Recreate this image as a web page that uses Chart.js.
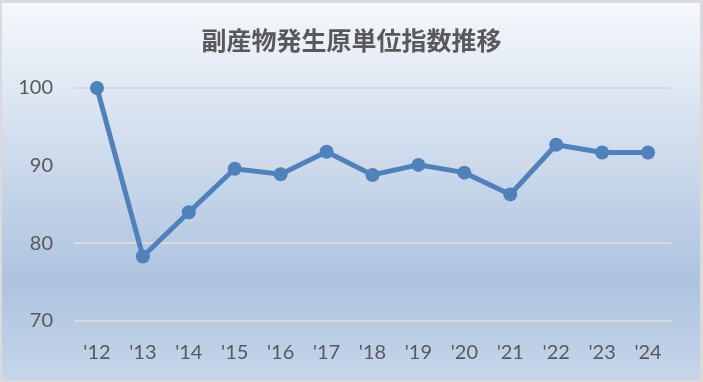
<!DOCTYPE html>
<html>
<head>
<meta charset="utf-8">
<script src="https://cdn.jsdelivr.net/npm/chart.js@4"></script>
<style>
  html, body { margin: 0; padding: 0; background: #fff; }
  #wrap { width: 703px; height: 382px; }
</style>
</head>
<body>
<div id="wrap"><canvas id="chart" width="703" height="382"></canvas></div>
<script>
// data
const years = ["'12", "'13", "'14", "'15", "'16", "'17", "'18", "'19", "'20", "'21", "'22", "'23", "'24"];
const indexValues = [100, 78.3, 84.0, 89.6, 88.9, 91.8, 88.8, 90.1, 89.1, 86.3, 92.7, 91.7, 91.7];
const yTicks = [70, 80, 90, 100];

const chartTitle = "副産物発生原単位指数推移";
const labelColor = "#595959";
const lineColor = "#4f81bd";

// background panel with gradient + border
const panelBg = {
  id: "panelBg",
  beforeDraw(chart) {
    const ctx = chart.ctx;
    const w = chart.width, h = chart.height;
    ctx.save();
    ctx.fillStyle = "#dadada";
    ctx.fillRect(0, 0, w, h);
    const g = ctx.createLinearGradient(0, 3, 0, h - 2);
    g.addColorStop(0, "#f5f8fc");
    g.addColorStop(0.74, "#adc3df");
    g.addColorStop(1, "#c6d6ea");
    ctx.fillStyle = g;
    ctx.fillRect(2, 3, w - 5, h - 5);
    ctx.restore();
  }
};

new Chart(document.getElementById("chart"), {
  type: "line",
  data: {
    labels: years,
    datasets: [{
      data: indexValues,
      borderColor: lineColor,
      backgroundColor: lineColor,
      borderWidth: 5,
      pointRadius: 7,
      pointHoverRadius: 7,
      pointBorderWidth: 0,
      tension: 0,
      clip: false
    }]
  },
  options: {
    responsive: false,
    animation: false,
    layout: { padding: { left: 0, right: 0, top: 0, bottom: 12 } },
    plugins: {
      legend: { display: false },
      tooltip: { enabled: false },
      title: {
        display: true,
        text: chartTitle,
        color: labelColor,
        font: { family: "'Noto Sans CJK JP', 'Noto Sans'", size: 25, weight: "bold", lineHeight: 1.2 },
        padding: { top: 25, bottom: 33 }
      }
    },
    scales: {
      x: {
        offset: true,
        grid: { display: false, drawTicks: false },
        border: { display: false },
        ticks: {
          color: labelColor,
          font: { family: "Lato", size: 20 },
          padding: 20,
          maxRotation: 0
        },
        afterFit: s => { s.height = 49; }
      },
      y: {
        min: yTicks[0],
        max: yTicks[yTicks.length - 1],
        afterBuildTicks: s => { s.ticks = yTicks.map(v => ({ value: v })); },
        grid: { color: "#d9d9d9", lineWidth: 2, drawTicks: false },
        border: { display: false },
        ticks: {
          color: labelColor,
          font: { family: "Lato", size: 20 },
          padding: 21
        },
        afterFit: s => { s.width = 74; }
      },
      // empty right-hand spacer so the title stays centred on the whole panel
      yRight: {
        position: "right",
        grid: { display: false, drawTicks: false },
        border: { display: false },
        ticks: { color: "rgba(0,0,0,0)" },
        afterFit: s => { s.width = 32; }
      }
    }
  },
  plugins: [panelBg]
});
</script>
</body>
</html>
